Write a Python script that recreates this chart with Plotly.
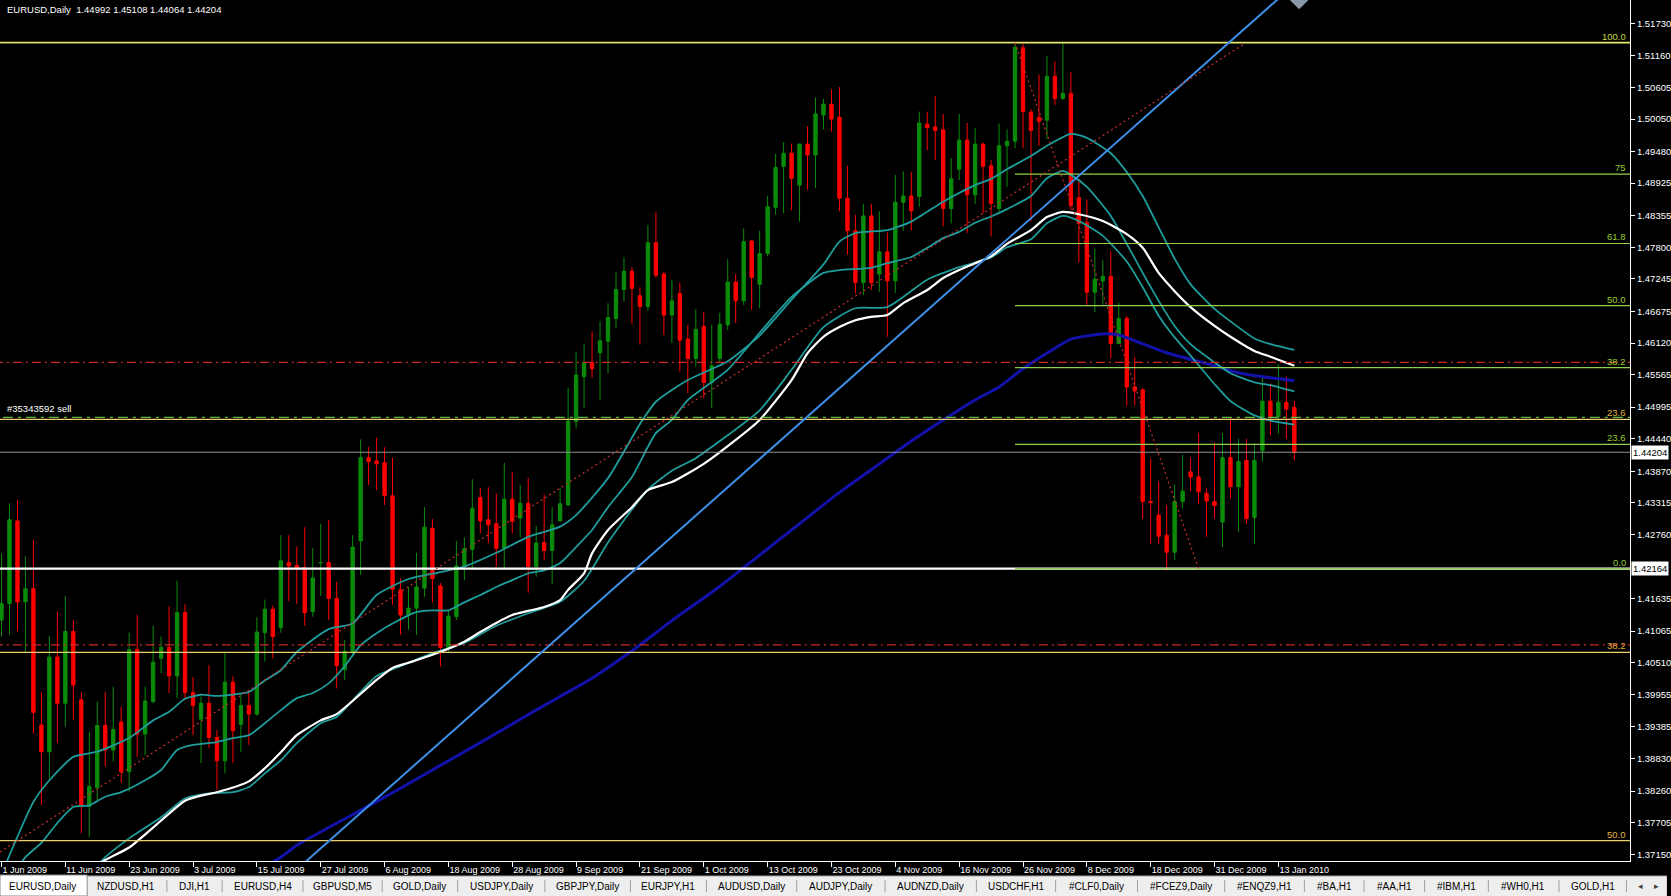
import pandas as pd
import plotly.graph_objects as go

# ---------------- data ----------------
trading_days = [d for d in pd.bdate_range("2009-06-01", "2010-01-15")
                if d.strftime("%m-%d") not in ("12-25", "01-01")]
dates = [d.strftime("%Y-%m-%d") for d in trading_days]

opens = [
    1.4126, 1.4155, 1.4300, 1.4158, 1.4181, 1.3942, 1.3895, 1.4061, 1.3980, 1.4106,
    1.3986, 1.3799, 1.3832, 1.3941, 1.3898, 1.3947, 1.3860, 1.4074, 1.3926, 1.3983,
    1.4059, 1.4078, 1.4028, 1.4139, 1.3999, 1.3952, 1.3980, 1.3920, 1.3879, 1.4017,
    1.3943, 1.3976, 1.3961, 1.4104, 1.4145, 1.4113, 1.4227, 1.4222, 1.4218, 1.4141,
    1.4226, 1.4227, 1.4164, 1.4039, 1.4071, 1.4265, 1.4411, 1.4405, 1.4402, 1.4344,
    1.4179, 1.4135, 1.4147, 1.4182, 1.4287, 1.4186, 1.4078, 1.4132, 1.4220, 1.4250,
    1.4341, 1.4302, 1.4295, 1.4252, 1.4338, 1.4305, 1.4331, 1.4220, 1.4262, 1.4248,
    1.4300, 1.4328, 1.4474, 1.4553, 1.4578, 1.4595, 1.4615, 1.4655, 1.4706, 1.4738,
    1.4695, 1.4676, 1.4788, 1.4733, 1.4661, 1.4699, 1.4619, 1.4585, 1.4641, 1.4543,
    1.4585, 1.4644, 1.4719, 1.4686, 1.4791, 1.4715, 1.4769, 1.4850, 1.4922, 1.4945,
    1.4889, 1.4961, 1.4942, 1.5012, 1.5031, 1.5008, 1.4866, 1.4809, 1.4718, 1.4835,
    1.4733, 1.4772, 1.4721, 1.4859, 1.4870, 1.4869, 1.4996, 1.4991, 1.4986, 1.4848,
    1.4917, 1.4968, 1.4872, 1.4961, 1.4923, 1.4848, 1.4958, 1.4966, 1.5130, 1.5017,
    1.5008, 1.5003, 1.5080, 1.5041, 1.5050, 1.4867, 1.4823, 1.4701, 1.4721, 1.4729,
    1.4611, 1.4655, 1.4535, 1.4530, 1.4334, 1.4310, 1.4275, 1.4245, 1.4334, 1.4386,
    1.4377, 1.4348, 1.4334, 1.4298, 1.4411, 1.4360, 1.4406, 1.4306, 1.4423, 1.4510,
    1.4483, 1.4508, 1.44992]
highs = [
    1.4243, 1.4331, 1.4337, 1.4238, 1.4267, 1.4000, 1.4098, 1.4141, 1.4168, 1.4126,
    1.3999, 1.3930, 1.3983, 1.3999, 1.4009, 1.3974, 1.4104, 1.4135, 1.4009, 1.4116,
    1.4097, 1.4150, 1.4195, 1.4154, 1.4026, 1.3992, 1.4047, 1.3933, 1.4068, 1.4027,
    1.3996, 1.4003, 1.4131, 1.4162, 1.4151, 1.4275, 1.4275, 1.4255, 1.4289, 1.4252,
    1.4295, 1.4302, 1.4193, 1.4091, 1.4275, 1.4443, 1.4430, 1.4446, 1.4429, 1.4411,
    1.4199, 1.4184, 1.4244, 1.4324, 1.4303, 1.4191, 1.4143, 1.4265, 1.4271, 1.4373,
    1.4358, 1.4359, 1.4348, 1.4402, 1.4385, 1.4363, 1.4375, 1.4291, 1.4346, 1.4324,
    1.4357, 1.4533, 1.4597, 1.4610, 1.4632, 1.4650, 1.4682, 1.4736, 1.4762, 1.4745,
    1.4710, 1.4819, 1.4841, 1.4737, 1.4723, 1.4718, 1.4644, 1.4671, 1.4666, 1.4644,
    1.4665, 1.4759, 1.4733, 1.4813, 1.4793, 1.4809, 1.4870, 1.4944, 1.4964, 1.4962,
    1.4962, 1.4992, 1.5043, 1.5040, 1.5057, 1.5061, 1.4923, 1.4837, 1.4856, 1.4856,
    1.4843, 1.4806, 1.4907, 1.4913, 1.4912, 1.5018, 1.5018, 1.5045, 1.5014, 1.4936,
    1.5014, 1.4998, 1.4989, 1.4964, 1.4933, 1.4997, 1.4987, 1.5139, 1.5137, 1.5022,
    1.5083, 1.5116, 1.5106, 1.5139, 1.5087, 1.4899, 1.4864, 1.4778, 1.4757, 1.4773,
    1.4683, 1.4660, 1.4588, 1.4532, 1.4409, 1.4369, 1.4328, 1.4364, 1.4416, 1.4411,
    1.4454, 1.4357, 1.4438, 1.4454, 1.4481, 1.4444, 1.4444, 1.4436, 1.4553, 1.4541,
    1.4575, 1.4553, 1.45108]
lows = [
    1.4097, 1.4100, 1.4106, 1.4068, 1.3927, 1.3802, 1.3848, 1.3910, 1.3939, 1.3951,
    1.3752, 1.3745, 1.3810, 1.3869, 1.3878, 1.3840, 1.3825, 1.3886, 1.3889, 1.3980,
    1.4033, 1.3998, 1.3989, 1.3986, 1.3924, 1.3875, 1.3901, 1.3828, 1.3857, 1.3875,
    1.3895, 1.3907, 1.3958, 1.4053, 1.4059, 1.4104, 1.4159, 1.4154, 1.4116, 1.4132,
    1.4168, 1.4126, 1.4006, 1.4021, 1.4062, 1.4205, 1.4363, 1.4354, 1.4328, 1.4153,
    1.4100, 1.4109, 1.4100, 1.4167, 1.4157, 1.4044, 1.4068, 1.4126, 1.4196, 1.4217,
    1.4278, 1.4261, 1.4220, 1.4217, 1.4278, 1.4271, 1.4174, 1.4202, 1.4231, 1.4189,
    1.4299, 1.4326, 1.4462, 1.4498, 1.4551, 1.4512, 1.4559, 1.4638, 1.4685, 1.4646,
    1.4609, 1.4669, 1.4726, 1.4626, 1.4612, 1.4562, 1.4524, 1.4571, 1.4515, 1.4498,
    1.4579, 1.4635, 1.4647, 1.4679, 1.4670, 1.4673, 1.4764, 1.4837, 1.4840, 1.4845,
    1.4825, 1.4881, 1.4884, 1.4987, 1.4983, 1.4843, 1.4767, 1.4699, 1.4696, 1.4705,
    1.4702, 1.4623, 1.4700, 1.4809, 1.4810, 1.4851, 1.4950, 1.4933, 1.4817, 1.4822,
    1.4898, 1.4805, 1.4856, 1.4840, 1.4799, 1.4842, 1.4886, 1.4954, 1.4954, 1.4826,
    1.4958, 1.4970, 1.5030, 1.5039, 1.4845, 1.4753, 1.4679, 1.4666, 1.4679, 1.4585,
    1.4610, 1.4502, 1.4503, 1.4303, 1.4259, 1.4259, 1.4213, 1.4231, 1.4322, 1.4352,
    1.4329, 1.4272, 1.4304, 1.4254, 1.4340, 1.4281, 1.4295, 1.4260, 1.4404, 1.4450,
    1.4453, 1.4444, 1.44064]
closes = [
    1.4155, 1.4302, 1.4158, 1.4181, 1.3964, 1.3895, 1.4061, 1.3980, 1.4106, 1.4012,
    1.3800, 1.3834, 1.3941, 1.3898, 1.3934, 1.3860, 1.4074, 1.3926, 1.3984, 1.4052,
    1.4078, 1.4028, 1.4139, 1.3999, 1.3976, 1.3980, 1.3920, 1.3879, 1.4017, 1.3932,
    1.3976, 1.3961, 1.4105, 1.4145, 1.4097, 1.4230, 1.4221, 1.4217, 1.4139, 1.4200,
    1.4227, 1.4164, 1.4046, 1.4071, 1.4254, 1.4411, 1.4404, 1.4400, 1.4344, 1.4180,
    1.4135, 1.4147, 1.4184, 1.4289, 1.4199, 1.4078, 1.4133, 1.4221, 1.4251, 1.4322,
    1.4300, 1.4293, 1.4252, 1.4338, 1.4299, 1.4331, 1.4220, 1.4261, 1.4248, 1.4293,
    1.4330, 1.4475, 1.4556, 1.4578, 1.4567, 1.4616, 1.4657, 1.4706, 1.4738, 1.4708,
    1.4676, 1.4788, 1.4731, 1.4661, 1.4686, 1.4617, 1.4585, 1.4636, 1.4543, 1.4572,
    1.4645, 1.4719, 1.4686, 1.4790, 1.4727, 1.4769, 1.4851, 1.4920, 1.4945, 1.4901,
    1.4961, 1.4942, 1.5014, 1.5031, 1.5005, 1.4866, 1.4809, 1.4718, 1.4835, 1.4718,
    1.4772, 1.4721, 1.4859, 1.4870, 1.4844, 1.4998, 1.4990, 1.4985, 1.4848, 1.4900,
    1.4968, 1.4872, 1.4961, 1.4922, 1.4857, 1.4958, 1.4966, 1.5131, 1.5018, 1.4985,
    1.5001, 1.5080, 1.5041, 1.5050, 1.4853, 1.4822, 1.4701, 1.4724, 1.4729, 1.4611,
    1.4655, 1.4535, 1.4528, 1.4334, 1.4332, 1.4273, 1.4245, 1.4334, 1.4352, 1.4377,
    1.4351, 1.4335, 1.4327, 1.4411, 1.4360, 1.4404, 1.4304, 1.4406, 1.4510, 1.4483,
    1.4508, 1.4496, 1.44204]

# Envelope / moving-average lines (bar number, price)
env_upper_bars = [0, 4, 6, 9, 12, 16, 19, 21, 23, 25, 27, 31, 33, 35, 37, 41, 44, 47, 51, 55,
                  58, 62, 66, 70, 72, 76, 80, 82, 86, 91, 95, 99, 103, 105, 107, 111, 114, 118, 122, 124,
                  126, 129, 131, 134, 136, 139, 141, 143, 145, 147, 149, 152, 154, 157, 159, 162]
env_upper_vals = [1.3680, 1.3807, 1.3845, 1.3886, 1.3895, 1.3919, 1.3950, 1.3965, 1.3988, 1.3995,
                  1.3993, 1.4000, 1.4020, 1.4038, 1.4070, 1.4110, 1.4120, 1.4170, 1.4198, 1.4210,
                  1.4220, 1.4244, 1.4272, 1.4290, 1.4310, 1.4375, 1.4470, 1.4509, 1.4547, 1.4580,
                  1.4625, 1.4688, 1.4750, 1.4790, 1.4805, 1.4810, 1.4825, 1.4860, 1.4889, 1.4900,
                  1.4917, 1.4940, 1.4958, 1.4979, 1.4972, 1.4945, 1.4912, 1.4870, 1.4815, 1.4760,
                  1.4715, 1.4672, 1.4650, 1.4620, 1.4610, 1.4600]
env_mid_bars = [0, 3, 5, 7, 9, 11, 13, 15, 18, 20, 22, 24, 27, 29, 31, 33, 35, 37, 39, 41,
                43, 45, 47, 49, 52, 54, 56, 58, 60, 62, 64, 66, 68, 70, 72, 74, 76, 79, 81, 82,
                84, 86, 91, 95, 99, 103, 105, 109, 111, 114, 116, 118, 120, 122, 124, 126, 129, 131, 133, 134,
                136, 139, 141, 143, 145, 147, 149, 152, 154, 157, 159, 162]
env_mid_vals = [1.3640, 1.3710, 1.3735, 1.3770, 1.3798, 1.3801, 1.3816, 1.3824, 1.3845, 1.3863,
                1.3898, 1.3907, 1.3912, 1.3919, 1.3924, 1.3945, 1.3968, 1.3989, 1.3998, 1.4015,
                1.4045, 1.4082, 1.4103, 1.4120, 1.4140, 1.4143, 1.4143, 1.4157, 1.4170, 1.4184,
                1.4196, 1.4208, 1.4213, 1.4226, 1.4254, 1.4284, 1.4324, 1.4377, 1.4430, 1.4454,
                1.4477, 1.4512, 1.4565, 1.4630, 1.4693, 1.4735, 1.4740, 1.4744, 1.4752, 1.4763,
                1.4779, 1.4796, 1.4807, 1.4823, 1.4834, 1.4847, 1.4870, 1.4901, 1.4914, 1.4907,
                1.4886, 1.4835, 1.4786, 1.4735, 1.4686, 1.4642, 1.4610, 1.4578, 1.4559, 1.4543,
                1.4538, 1.4527]
env_lower_bars = [0, 6, 10, 13, 16, 20, 23, 26, 29, 31, 33, 35, 37, 40, 42, 44, 47, 50, 54, 58,
                  62, 66, 70, 73, 76, 79, 81, 84, 87, 90, 95, 99, 103, 107, 111, 116, 120, 124, 126, 129,
                  131, 133, 135, 138, 141, 143, 145, 147, 149, 152, 154, 157, 159, 162]
env_lower_vals = [1.3560, 1.3615, 1.3665, 1.3710, 1.3743, 1.3780, 1.3813, 1.3822, 1.3824, 1.3833,
                  1.3857, 1.3880, 1.3910, 1.3945, 1.3956, 1.3985, 1.4028, 1.4045, 1.4068, 1.4086,
                  1.4116, 1.4138, 1.4158, 1.4195, 1.4262, 1.4320, 1.4355, 1.4388, 1.4410, 1.4440,
                  1.4494, 1.4565, 1.4640, 1.4673, 1.4675, 1.4723, 1.4745, 1.4762, 1.4780, 1.4794,
                  1.4822, 1.4835, 1.4826, 1.4800, 1.4755, 1.4710, 1.4660, 1.4622, 1.4590, 1.4540,
                  1.4510, 1.4485, 1.4476, 1.4469]
ma_white_bars = [0, 7, 13, 16, 19, 23, 25, 27, 31, 33, 35, 37, 40, 42, 47, 49, 51, 54, 58, 60,
                 62, 64, 66, 68, 70, 71, 73, 74, 76, 79, 81, 84, 88, 92, 95, 99, 101, 103, 105, 107,
                 109, 111, 113, 116, 118, 120, 122, 124, 126, 129, 131, 133, 135, 138, 141, 143, 145, 147, 149, 152,
                 154, 157, 159, 162]
ma_white_vals = [1.3600, 1.3650, 1.3705, 1.3727, 1.3762, 1.3809, 1.3818, 1.3824, 1.3843, 1.3866,
                 1.3894, 1.3924, 1.3950, 1.3961, 1.4021, 1.4042, 1.4051, 1.4065, 1.4088, 1.4105,
                 1.4121, 1.4135, 1.4142, 1.4149, 1.4161, 1.4179, 1.4208, 1.4243, 1.4284, 1.4324,
                 1.4354, 1.4368, 1.4400, 1.4442, 1.4477, 1.4547, 1.4594, 1.4623, 1.4640, 1.4652,
                 1.4658, 1.4661, 1.4682, 1.4705, 1.4726, 1.4740, 1.4752, 1.4764, 1.4786, 1.4810,
                 1.4833, 1.4842, 1.4838, 1.4826, 1.4803, 1.4779, 1.4735, 1.4703, 1.4675, 1.4642,
                 1.4623, 1.4598, 1.4588, 1.4572]
ma_blue_bars = [0, 10, 20, 30, 35, 37, 41, 46, 50, 55, 60, 65, 70, 74, 79, 84, 90, 95, 100, 105,
                110, 114, 118, 122, 125, 128, 132, 134, 138, 140, 142, 146, 151, 155, 159, 162]
ma_blue_vals = [1.3480, 1.3540, 1.3600, 1.3670, 1.3710, 1.3731, 1.3762, 1.3800, 1.3831, 1.3871,
                1.3911, 1.3952, 1.3992, 1.4024, 1.4072, 1.4125, 1.4185, 1.4240, 1.4295, 1.4350,
                1.4400, 1.4440, 1.4477, 1.4512, 1.4535, 1.4567, 1.4603, 1.4619, 1.4628, 1.4626,
                1.4616, 1.4595, 1.4576, 1.4560, 1.4551, 1.4546]

# Drawn objects
trend_bars = [34, 160]                 # light-blue trendline anchors
trend_prices = [1.3651, 1.5216]
channel_bars = [-0.2, 155.7]           # red dotted trendline
channel_prices = [1.3719, 1.5137]
fib_bars = [127, 150]                  # green Fibonacci retracement anchors
fib_prices = [1.51391, 1.42164]
fib_levels = [0.0, 23.6, 38.2, 50.0, 61.8, 75.0, 100.0]
fib_labels = ["0.0", "23.6", "38.2", "50.0", "61.8", "75", "100.0"]
fib2_top, fib2_bottom = 1.51391, 1.23387  # yellow Fibonacci (anchored off-screen)
fib2_levels = [0.0, 23.6, 38.2, 50.0]
fib2_labels = ["", "23.6", "38.2", "50.0"]
red_lines = [1.45781, 1.40826]
zero_line = 1.42164
order_price = 1.44817
order_label = "#35343592 sell"
handle_bar, handle_price = [162.6], [1.52134]

y_tick_vals = [1.51730, 1.51160, 1.50605, 1.50050, 1.49480, 1.48925, 1.48355, 1.47800, 1.47245,
               1.46675, 1.46120, 1.45565, 1.44995, 1.44440, 1.43870, 1.43315, 1.42760, 1.41635,
               1.41065, 1.40510, 1.39955, 1.39385, 1.38830, 1.38260, 1.37705, 1.37150]

tabs = ["EURUSD,Daily", "NZDUSD,H1", "DJI,H1", "EURUSD,H4", "GBPUSD,M5", "GOLD,Daily",
        "USDJPY,Daily", "GBPJPY,Daily", "EURJPY,H1", "AUDUSD,Daily", "AUDJPY,Daily",
        "AUDNZD,Daily", "USDCHF,H1", "#CLF0,Daily", "#FCEZ9,Daily", "#ENQZ9,H1", "#BA,H1",
        "#AA,H1", "#IBM,H1", "#WH0,H1", "GOLD,H1"]

# ---------------- layout constants ----------------
W, H = 1671, 896
PLOT_W, PLOT_H = 1634, 861
tab_centers = [42.6, 126.8, 195, 263.8, 343.2, 421, 502.5, 589.3, 669.8, 753.4, 843, 933,
               1018.8, 1099.3, 1183.5, 1267.7, 1338, 1397.6, 1460, 1527.1, 1597]
tab_seps = [87.4, 167.3, 222.7, 303.7, 383.1, 458.8, 546.2, 632, 708.2, 798.7, 887.2, 978.8,
            1058.2, 1140.3, 1227.7, 1307.6, 1367.3, 1428.1, 1492, 1562.8, 1630.5]
FONT = "Liberation Sans, Arial, sans-serif"
TEAL = "#1f9c9c"
FIB_GREEN = "#8fd14f"
FIB2_YELLOW = "#e9cf6e"
FAR_L, FAR_R = -20, 300

bar_no = list(range(len(dates)))
tick_bars = bar_no[::8]
tick_text = [f"{trading_days[i].day} {trading_days[i].strftime('%b %Y')}" for i in tick_bars]

fig = go.Figure()

fig.add_trace(go.Candlestick(
    x=bar_no, open=opens, high=highs, low=lows, close=closes,
    increasing=dict(line=dict(color="#0a8c0a", width=1), fillcolor="#0a8c0a"),
    decreasing=dict(line=dict(color="#ff0000", width=1), fillcolor="#ff0000"),
    whiskerwidth=0, hoverinfo="skip"))

def hline(y, color, width=1, dash="solid", x0=FAR_L):
    fig.add_trace(go.Scatter(x=[x0, FAR_R], y=[y, y], mode="lines",
                             line=dict(color=color, width=width, dash=dash), hoverinfo="skip"))

# moving averages
fig.add_trace(go.Scatter(x=ma_blue_bars, y=ma_blue_vals, mode="lines",
                         line=dict(color="#1212aa", width=3, shape="spline", smoothing=0.6), hoverinfo="skip"))
for bx, vy in [(env_lower_bars, env_lower_vals), (env_mid_bars, env_mid_vals), (env_upper_bars, env_upper_vals)]:
    fig.add_trace(go.Scatter(x=bx, y=vy, mode="lines",
                             line=dict(color=TEAL, width=1.8, shape="spline", smoothing=0.6), hoverinfo="skip"))
fig.add_trace(go.Scatter(x=ma_white_bars, y=ma_white_vals, mode="lines",
                         line=dict(color="#ffffff", width=2.2, shape="spline", smoothing=0.6), hoverinfo="skip"))

# horizontal objects
for lv in fib2_levels:
    hline(fib2_top - lv / 100 * (fib2_top - fib2_bottom), FIB2_YELLOW, 1.2)
for rl in red_lines:
    hline(rl, "#c82828", 1.2, "9px,4px,2px,4px")
hline(order_price, "#5fb84a", 1.2, "10px,5px,3px,5px")
hline(closes[-1], "#909090", 1.2)
hline(zero_line, "#ffffff", 2.2)
fib_hi, fib_lo = fib_prices
for lv in fib_levels:
    hline(fib_lo + lv / 100 * (fib_hi - fib_lo), FIB_GREEN, 1.2, x0=fib_bars[0])
hline(fib2_top, "#e4e46c", 1.5)

# trendlines
fig.add_trace(go.Scatter(x=trend_bars, y=trend_prices, mode="lines",
                         line=dict(color="#3d8fe8", width=2), hoverinfo="skip"))
fig.add_trace(go.Scatter(x=channel_bars, y=channel_prices, mode="lines",
                         line=dict(color="#c83030", width=1.2, dash="2px,3px"), hoverinfo="skip"))
fig.add_trace(go.Scatter(x=fib_bars, y=fib_prices, mode="lines",
                         line=dict(color="#c83030", width=1.2, dash="2px,3px"), hoverinfo="skip"))
fig.add_trace(go.Scatter(x=handle_bar, y=handle_price, mode="markers", cliponaxis=False,
                         marker=dict(symbol="diamond", size=14, color="#8896a8"), hoverinfo="skip"))

annotations = []
annotations.append(dict(
    text=f"EURUSD,Daily  {opens[-1]:.5f} {highs[-1]:.5f} {lows[-1]:.5f} {closes[-1]:.5f}",
    xref="paper", yref="paper", x=5 / PLOT_W, y=1 - 2 / PLOT_H, xanchor="left", yanchor="top",
    showarrow=False, font=dict(family=FONT, size=9.5, color="#ffffff")))
annotations.append(dict(text=order_label, xref="paper", yref="y", x=5 / PLOT_W, y=order_price,
                        xanchor="left", yanchor="bottom", yshift=1, showarrow=False,
                        font=dict(family=FONT, size=9.5, color="#ffffff")))
for lv, lab in zip(fib_levels, fib_labels):
    annotations.append(dict(text=lab, xref="paper", yref="y", x=1, xshift=-2,
                            y=fib_lo + lv / 100 * (fib_hi - fib_lo), xanchor="right", yanchor="bottom",
                            yshift=-1, showarrow=False,
                            font=dict(family=FONT, size=9.5, color="#9acd32" if lab != "100.0" else "#c8d848")))
for lv, lab in zip(fib2_levels, fib2_labels):
    if lab:
        annotations.append(dict(text=lab, xref="paper", yref="y", x=1, xshift=-2,
                                y=fib2_top - lv / 100 * (fib2_top - fib2_bottom), xanchor="right",
                                yanchor="bottom", yshift=-1, showarrow=False,
                                font=dict(family=FONT, size=9.5, color="#e0b040")))
for pv in (closes[-1], zero_line):
    annotations.append(dict(text=f"{pv:.5f}", xref="paper", yref="y", x=1, y=pv, xanchor="left",
                            yanchor="middle", xshift=1, showarrow=False, bgcolor="#ffffff",
                            borderpad=1, font=dict(family=FONT, size=9.5, color="#000000")))
for t, cx in zip(tabs, tab_centers):
    annotations.append(dict(text=t, xref="paper", yref="paper", x=cx / PLOT_W,
                            y=-(886 - PLOT_H) / PLOT_H, xanchor="center", yanchor="middle",
                            showarrow=False, font=dict(family=FONT, size=10, color="#000000")))
for sym, cx in (("\u25c2", 1645), ("\u25b8", 1661)):
    annotations.append(dict(text=sym, xref="paper", yref="paper", x=cx / PLOT_W,
                            y=-(886 - PLOT_H) / PLOT_H, xanchor="center", yanchor="middle",
                            showarrow=False, font=dict(family="DejaVu Sans", size=9, color="#404040")))

shapes = []
ytop, ybot = -(876 - PLOT_H) / PLOT_H, -(H - PLOT_H) / PLOT_H
shapes.append(dict(type="rect", xref="paper", yref="paper", x0=0, x1=W / PLOT_W, y0=ybot, y1=ytop,
                   fillcolor="#eeeeee", line=dict(width=0), layer="above"))
shapes.append(dict(type="line", xref="paper", yref="paper", x0=0, x1=W / PLOT_W, y0=ytop, y1=ytop,
                   line=dict(color="#a0a0a0", width=1), layer="above"))
shapes.append(dict(type="rect", xref="paper", yref="paper", x0=0, x1=tab_seps[0] / PLOT_W,
                   y0=ybot, y1=ytop + 1 / PLOT_H, fillcolor="#ffffff",
                   line=dict(color="#8c8c8c", width=1), layer="above"))
for sx in tab_seps[1:]:
    shapes.append(dict(type="line", xref="paper", yref="paper", x0=sx / PLOT_W, x1=sx / PLOT_W,
                       y0=-(880 - PLOT_H) / PLOT_H, y1=-(892 - PLOT_H) / PLOT_H,
                       line=dict(color="#a0a0a0", width=1), layer="above"))

fig.update_layout(
    width=W, height=H, margin=dict(l=0, r=W - PLOT_W, t=0, b=H - PLOT_H),
    paper_bgcolor="#000000", plot_bgcolor="#000000", showlegend=False,
    boxgap=0.4, annotations=annotations, shapes=shapes, hovermode=False,
    xaxis=dict(range=[-0.1875, 204.06], tickvals=tick_bars, ticktext=tick_text,
               ticks="outside", ticklen=5, tickcolor="#ffffff", showline=True,
               linecolor="#ffffff", linewidth=1, showgrid=False, zeroline=False,
               ticklabelposition="outside right", rangeslider=dict(visible=False),
               tickfont=dict(family=FONT, size=9, color="#ffffff"), fixedrange=True),
    yaxis=dict(range=[1.37033, 1.52138], side="right", tickvals=y_tick_vals,
               ticktext=[f"{v:.5f}" for v in y_tick_vals], ticks="outside", ticklen=4,
               tickcolor="#ffffff", showline=True, linecolor="#ffffff", linewidth=1,
               showgrid=False, zeroline=False, fixedrange=True,
               tickfont=dict(family=FONT, size=9.5, color="#ffffff")),
)

fig.write_html("out.html", config={"displayModeBar": False},
               post_script="document.body.style.margin='0';document.body.style.overflow='hidden';"
                           "document.body.style.background='#000';")
